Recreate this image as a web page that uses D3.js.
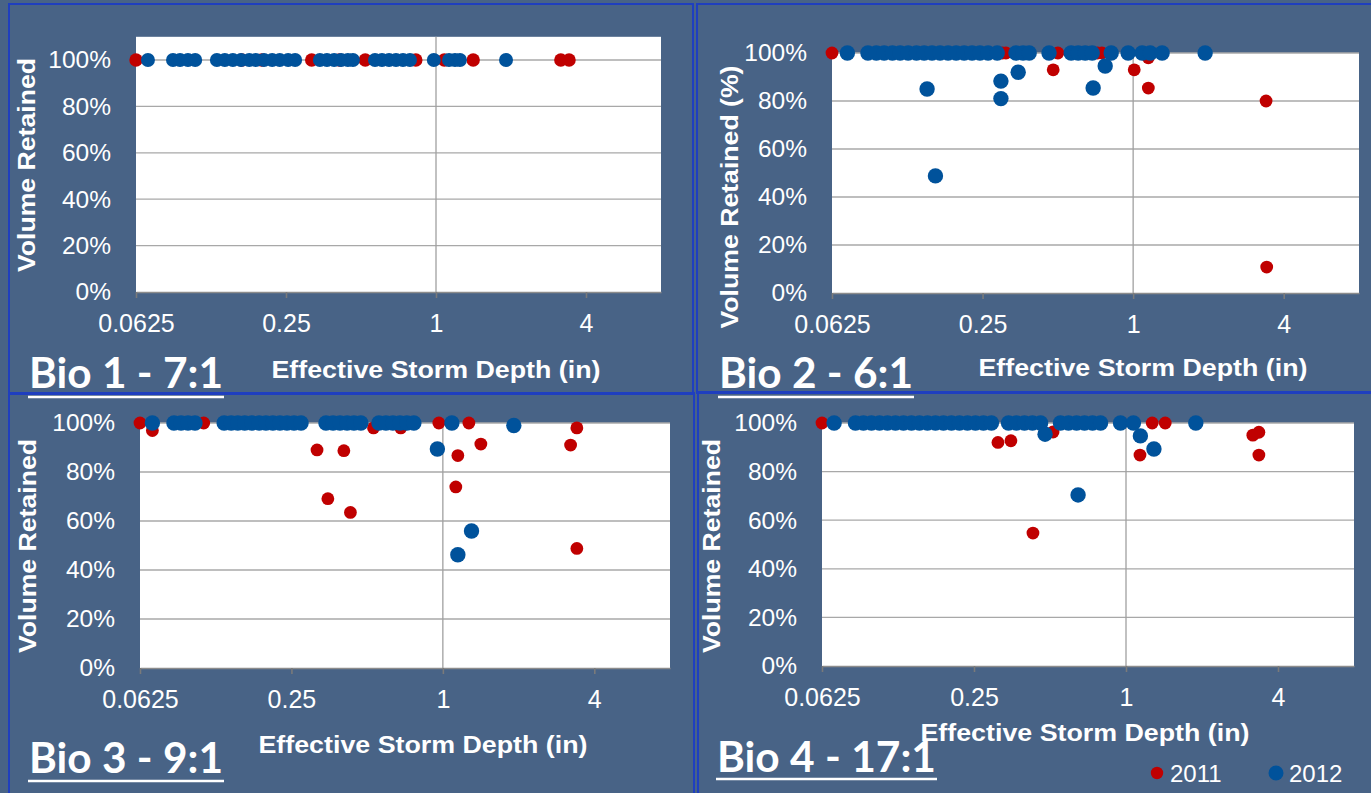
<!DOCTYPE html>
<html>
<head>
<meta charset="utf-8">
<script src="https://cdn.jsdelivr.net/npm/d3@7"></script>
<style>
  body { margin: 0; background: #486386; }
  svg { display: block; }
</style>
</head>
<body>
<script>
// axis ticks and legend
const xTicks = [0.0625, 0.25, 1, 4];
const xTickLabels = ['0.0625', '0.25', '1', '4'];
const yTicks = [0, 0.2, 0.4, 0.6, 0.8, 1];
const years = ['2011', '2012'];

const titles = ['Bio 1 - 7:1', 'Bio 2 - 6:1', 'Bio 3 - 9:1', 'Bio 4 - 17:1'];
const yTitles = ['Volume Retained', 'Volume Retained (%)', 'Volume Retained', 'Volume Retained'];
const xTitle = 'Effective Storm Depth (in)';

// [storm depth (in), fraction retained]
const bio1_2011 = [[0.0625, 1], [0.166, 1], [0.2, 1], [0.317, 1], [0.41, 1], [0.52, 1], [0.83, 1], [1.08, 1], [1.41, 1], [3.17, 1], [3.42, 1]];
const bio1_2012 = [[0.0698, 1], [0.088, 1], [0.0939, 1], [0.101, 1], [0.108, 1], [0.132, 1], [0.142, 1], [0.153, 1],
  [0.165, 1], [0.178, 1], [0.189, 1], [0.204, 1], [0.22, 1], [0.236, 1], [0.255, 1], [0.272, 1], [0.342, 1], [0.365, 1],
  [0.39, 1], [0.416, 1], [0.443, 1], [0.464, 1], [0.569, 1], [0.607, 1], [0.648, 1], [0.691, 1], [0.737, 1], [0.786, 1],
  [0.98, 1], [1.128, 1], [1.192, 1], [1.248, 1], [1.91, 1]];

const bio2_2011 = [[0.0625, 1], [0.3, 1], [0.31, 1], [0.5, 1], [0.72, 1], [0.75, 1], [0.479, 0.93], [1.01, 0.93],
  [1.15, 0.98], [1.15, 0.854], [3.4, 0.8], [3.42, 0.108]];
const bio2_2012 = [[0.072, 1], [0.087, 1], [0.094, 1], [0.101, 1], [0.109, 1], [0.117, 1], [0.126, 1], [0.136, 1],
  [0.146, 1], [0.157, 1], [0.169, 1], [0.182, 1], [0.196, 1], [0.211, 1], [0.227, 1], [0.244, 1], [0.263, 1], [0.286, 1],
  [0.34, 1], [0.363, 1], [0.384, 1], [0.461, 1], [0.565, 1], [0.603, 1], [0.643, 1], [0.686, 1], [0.817, 1], [0.955, 1],
  [1.087, 1], [1.17, 1], [1.306, 1], [1.94, 1],
  [0.15, 0.85], [0.296, 0.883], [0.296, 0.81], [0.347, 0.92], [0.773, 0.946], [0.692, 0.854], [0.162, 0.488]];

const bio3_2011 = [[0.0625, 1], [0.07, 0.969], [0.112, 1], [0.53, 0.98], [0.68, 0.98], [0.964, 1], [1.269, 1],
  [3.41, 0.98], [3.22, 0.91], [1.416, 0.914], [1.147, 0.867], [0.316, 0.89], [0.404, 0.887], [1.126, 0.739],
  [0.349, 0.691], [0.429, 0.635], [3.41, 0.488]];
const bio3_2012 = [[0.07, 1], [0.0853, 1], [0.091, 1], [0.097, 1], [0.1034, 1], [0.135, 1], [0.144, 1], [0.153, 1],
  [0.163, 1], [0.174, 1], [0.186, 1], [0.198, 1], [0.211, 1], [0.225, 1], [0.24, 1], [0.256, 1], [0.273, 1],
  [0.343, 1], [0.366, 1], [0.39, 1], [0.416, 1], [0.443, 1], [0.472, 1], [0.557, 1], [0.594, 1], [0.633, 1],
  [0.675, 1], [0.719, 1], [0.767, 1], [1.086, 1], [1.915, 0.99], [0.951, 0.894], [1.3, 0.559], [1.147, 0.462]];

const bio4_2011 = [[0.0625, 1], [0.405, 1], [0.735, 1], [0.96, 1], [1.27, 1], [1.43, 1], [0.514, 0.963], [0.311, 0.92],
  [0.35, 0.927], [1.136, 0.868], [3.18, 0.95], [3.36, 0.962], [3.36, 0.868], [0.428, 0.547]];
const bio4_2012 = [[0.0698, 1], [0.0848, 1], [0.0912, 1], [0.0981, 1], [0.1056, 1], [0.1135, 1], [0.1221, 1],
  [0.1314, 1], [0.1413, 1], [0.152, 1], [0.1635, 1], [0.1759, 1], [0.1892, 1], [0.2035, 1], [0.2189, 1], [0.2355, 1],
  [0.2533, 1], [0.2725, 1], [0.2931, 1], [0.3425, 1], [0.368, 1], [0.396, 1], [0.426, 1], [0.459, 1], [0.55, 1],
  [0.592, 1], [0.637, 1], [0.685, 1], [0.737, 1], [0.793, 1], [0.951, 1], [1.07, 1], [1.89, 1],
  [0.478, 0.954], [1.14, 0.947], [1.29, 0.893], [0.646, 0.704]];

const colors = ['#c00000', '#00529b'];
const bg = '#486386';
const labelFont = '"Liberation Sans", Arial, sans-serif';

// layout of each panel (pixels)
const panels = [
  { data: [bio1_2011, bio1_2012], left: 136, right: 661, zero: 292, full: 60, yMax: 1.1, r: [6.7, 7],
    box: [9, 4, 684, 390], yt: [27, 165, 214], xt: [436, 370], tt: [29, 388, 194], ul: 397 },
  { data: [bio2_2011, bio2_2012], left: 832, right: 1359, zero: 293, full: 53, yMax: 1, r: [6.4, 7.7],
    box: [697, 4, 690, 389], yt: [730, 197, 263], xt: [1143, 368], tt: [719, 388, 194], ul: 397 },
  { data: [bio3_2011, bio3_2012], left: 140, right: 670, zero: 668, full: 423, yMax: 1, r: [6.4, 7.7],
    box: [9, 393, 685, 410], yt: [28, 546, 214], xt: [423, 745], tt: [29, 773, 194], ul: 781 },
  { data: [bio4_2011, bio4_2012], left: 822, right: 1354, zero: 666, full: 423, yMax: 1, r: [6.4, 7.7],
    box: [698, 392, 690, 410], yt: [712, 546, 214], xt: [1085, 733], tt: [717, 772, 219], ul: 779 }
];

const svg = d3.select('body').append('svg')
    .attr('width', 1371)
    .attr('height', 793);

svg.append('rect')
    .attr('width', 1371)
    .attr('height', 793)
    .attr('fill', bg);

panels.forEach((p, i) => {
    const g = svg.append('g');

    const x = d3.scaleLog().base(2)
        .domain([0.0625, 8])
        .range([p.left, p.right]);
    const y = d3.scaleLinear()
        .domain([0, 1])
        .range([p.zero, p.full]);
    const top = y(p.yMax);

    // panel frame
    g.append('rect')
        .attr('x', p.box[0]).attr('y', p.box[1])
        .attr('width', p.box[2]).attr('height', p.box[3])
        .attr('fill', 'none')
        .attr('stroke', '#1f3fbf')
        .attr('stroke-width', 2);

    // plot area
    g.append('rect')
        .attr('x', p.left).attr('y', top)
        .attr('width', p.right - p.left).attr('height', p.zero - top)
        .attr('fill', '#fff');

    g.append('g').selectAll('line')
        .data(yTicks.slice(1))
        .enter()
        .append('line')
            .attr('x1', p.left).attr('x2', p.right)
            .attr('y1', d => y(d)).attr('y2', d => y(d))
            .attr('stroke', '#a8a8a8')
            .attr('stroke-width', 1.3);

    g.append('line')
        .attr('x1', x(1)).attr('x2', x(1))
        .attr('y1', top).attr('y2', p.zero)
        .attr('stroke', '#a0a0a0')
        .attr('stroke-width', 1.3);

    const xa = g.append('g')
        .attr('transform', `translate(0, ${p.zero})`)
        .call(d3.axisBottom(x).tickValues(xTicks)
            .tickFormat((d, k) => xTickLabels[k])
            .tickSizeInner(6).tickSizeOuter(0).tickPadding(16));
    xa.select('.domain').attr('stroke', '#8c8c8c').attr('stroke-width', 1.6);
    xa.selectAll('.tick line').attr('stroke', '#7a7a7a').attr('stroke-width', 1.6);
    xa.selectAll('text')
        .attr('fill', '#fff')
        .style('font-family', labelFont)
        .style('font-size', '25px');

    const ya = g.append('g')
        .attr('transform', `translate(${p.left}, 0)`)
        .call(d3.axisLeft(y).tickValues(yTicks)
            .tickFormat(d3.format('.0%'))
            .tickSize(0).tickPadding(25));
    ya.select('.domain').remove();
    ya.selectAll('text')
        .attr('fill', '#fff')
        .style('font-family', labelFont)
        .style('font-size', '24.5px');

    // points: 2011 first, 2012 on top
    p.data.forEach((pts, k) => {
        g.append('g').selectAll('circle')
            .data(pts)
            .enter()
            .append('circle')
                .attr('cx', d => x(d[0]))
                .attr('cy', d => y(d[1]))
                .attr('r', p.r[k])
                .attr('fill', colors[k]);
    });

    // axis titles
    g.append('text')
        .attr('transform', `translate(${p.yt[0]}, ${p.yt[1]}) rotate(-90)`)
        .attr('text-anchor', 'middle')
        .attr('dy', '0.35em')
        .attr('textLength', p.yt[2])
        .attr('lengthAdjust', 'spacingAndGlyphs')
        .attr('fill', '#fff')
        .style('font', `bold 24px ${labelFont}`)
        .text(yTitles[i]);

    g.append('text')
        .attr('x', p.xt[0]).attr('y', p.xt[1])
        .attr('text-anchor', 'middle')
        .attr('dy', '0.35em')
        .attr('textLength', 329)
        .attr('lengthAdjust', 'spacingAndGlyphs')
        .attr('fill', '#fff')
        .style('font', `bold 23px ${labelFont}`)
        .text(xTitle);

    // panel title, underlined
    g.append('text')
        .attr('x', p.tt[0]).attr('y', p.tt[1])
        .attr('textLength', p.tt[2])
        .attr('lengthAdjust', 'spacingAndGlyphs')
        .attr('fill', '#fff')
        .style('font', 'bold 42px Lato, "Open Sans", sans-serif')
        .text(titles[i]);
    g.append('line')
        .attr('x1', p.tt[0] - 1).attr('x2', p.tt[0] + p.tt[2] + 1)
        .attr('y1', p.ul).attr('y2', p.ul)
        .attr('stroke', '#fff')
        .attr('stroke-width', 2.5);
});

// legend
const legend = svg.append('g')
    .selectAll('g')
    .data(years)
    .enter()
    .append('g')
        .attr('transform', (d, k) => `translate(${1157 + k * 119}, 773)`);
legend.append('circle')
    .attr('r', (d, k) => k ? 7.5 : 6.2)
    .attr('fill', (d, k) => colors[k]);
legend.append('text')
    .attr('x', 13)
    .attr('dy', '0.36em')
    .attr('fill', '#fff')
    .style('font-family', labelFont)
    .style('font-size', '24px')
    .text(d => d);
</script>
</body>
</html>
